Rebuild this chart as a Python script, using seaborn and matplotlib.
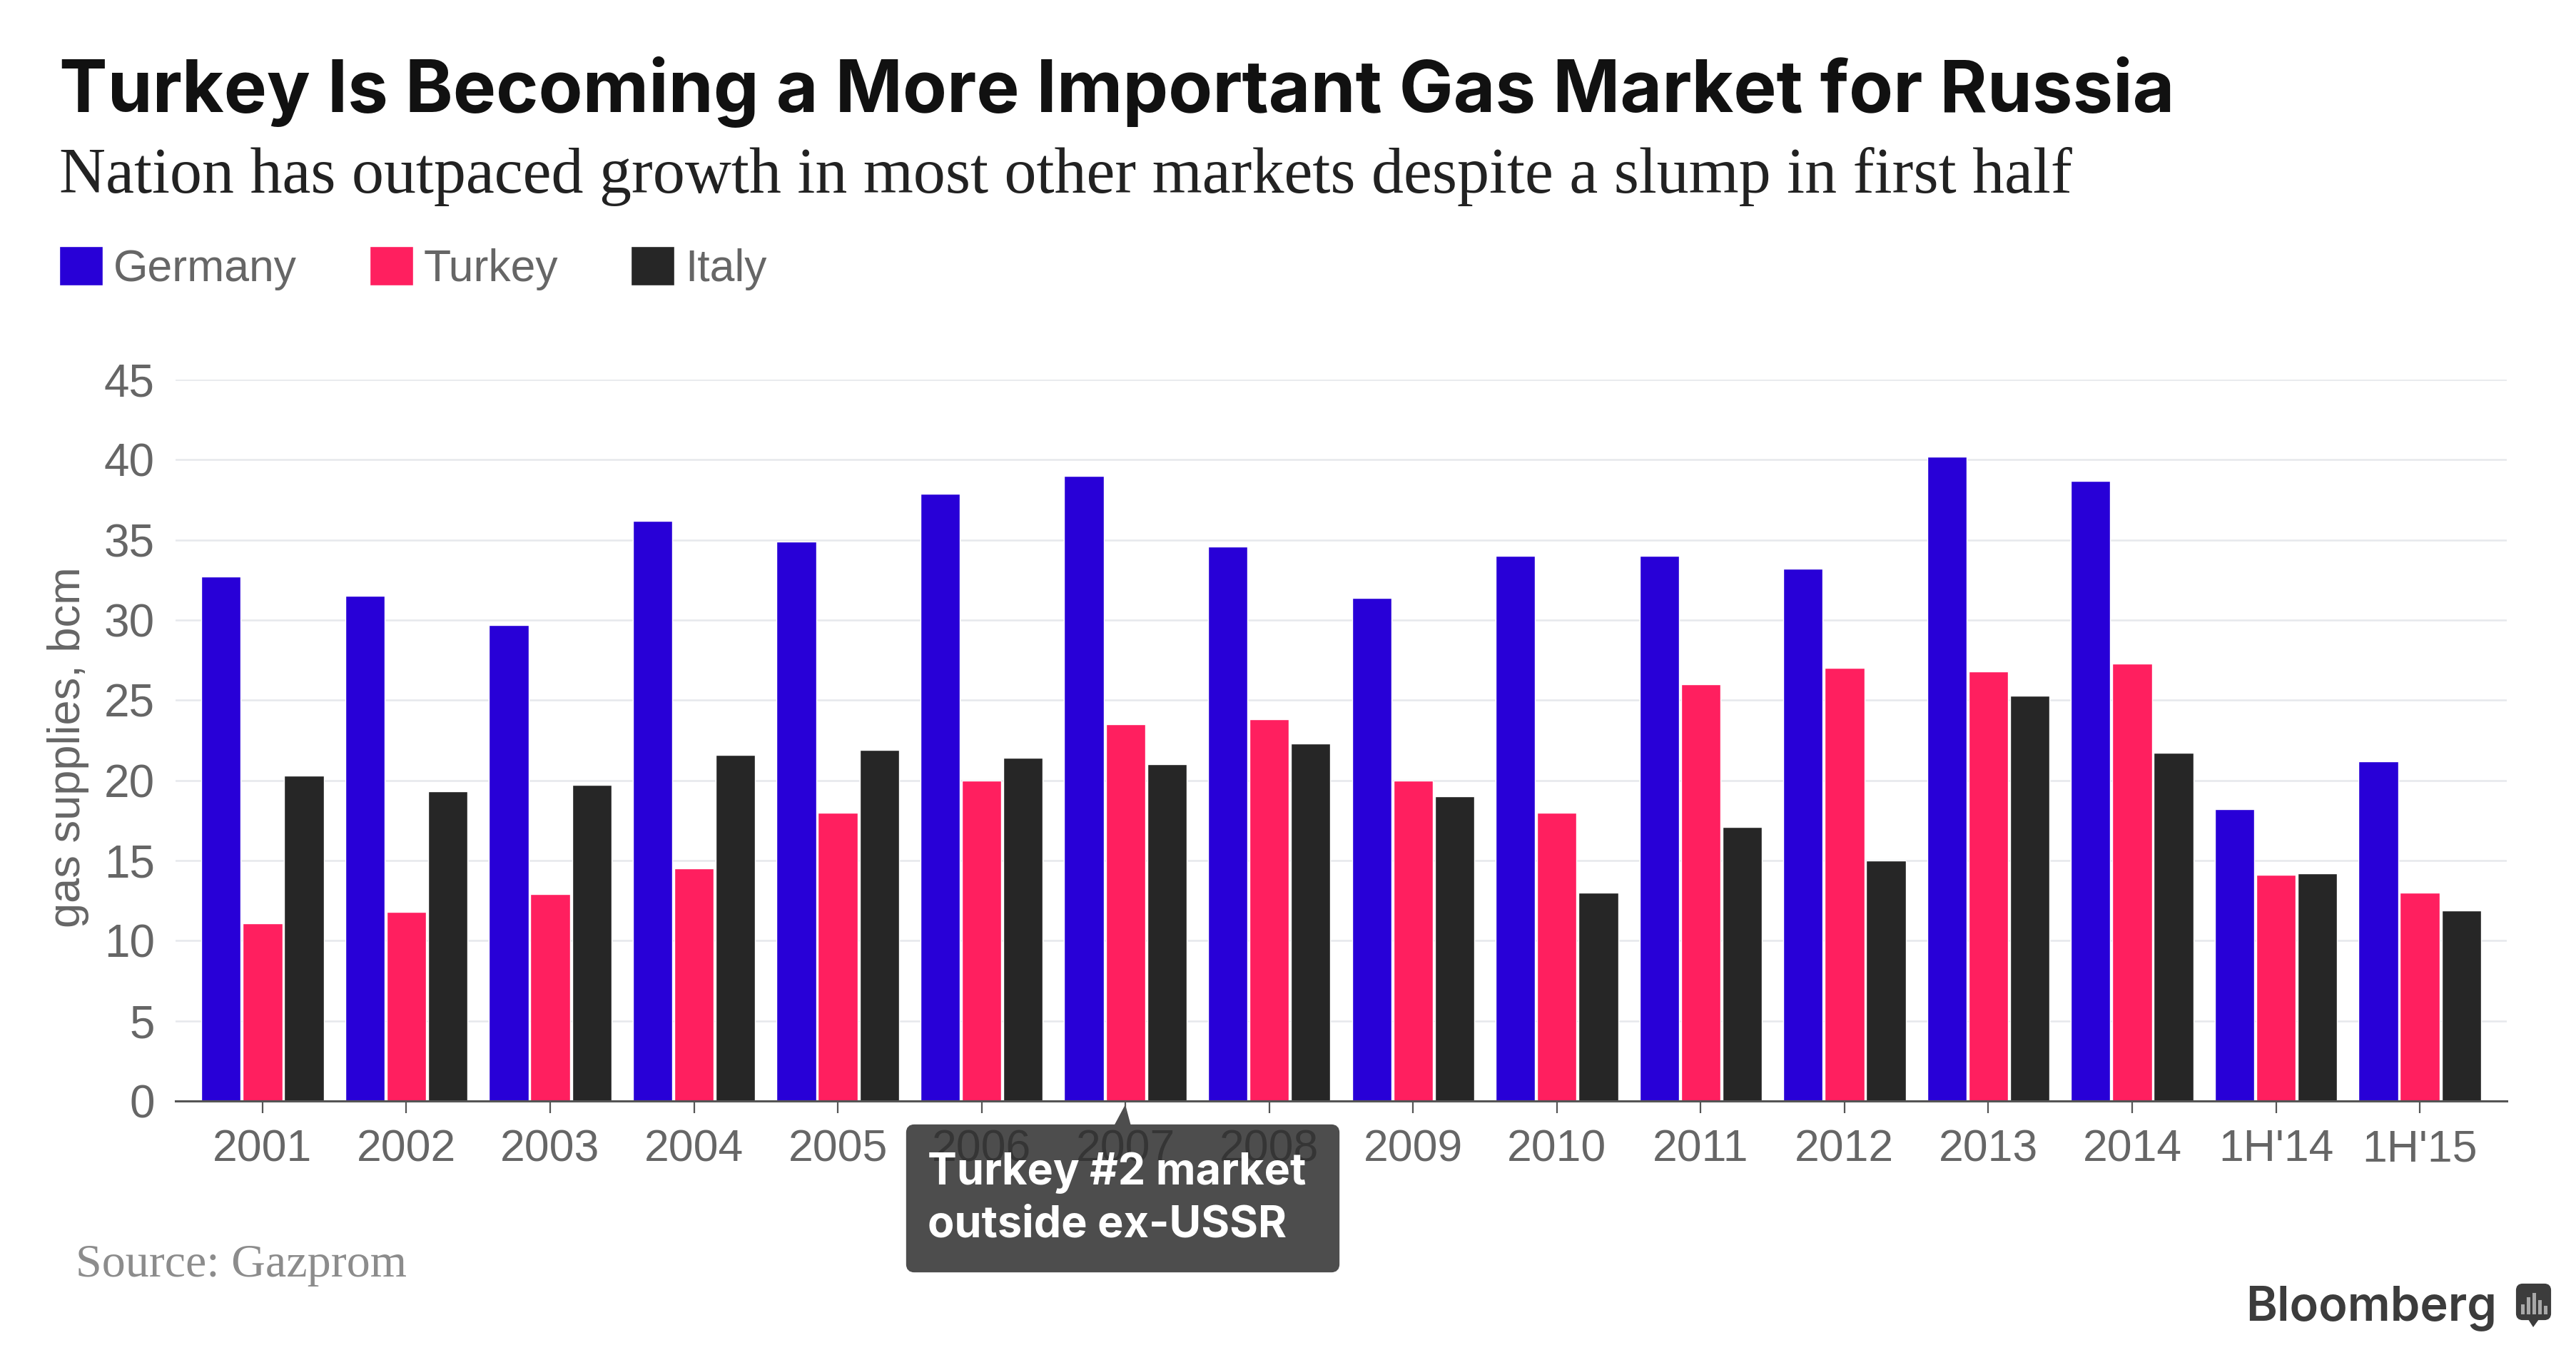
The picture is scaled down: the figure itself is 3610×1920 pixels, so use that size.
import pandas as pd
import matplotlib
matplotlib.use("Agg")
import matplotlib.pyplot as plt
from matplotlib.patches import FancyBboxPatch, Polygon, Rectangle
import seaborn as sns

# ── Data ──────────────────────────────────────────────────────────────────────
periods = ['2001', '2002', '2003', '2004', '2005', '2006', '2007', '2008',
           '2009', '2010', '2011', '2012', '2013', '2014', "1H'14", "1H'15"]
germany = [32.7, 31.5, 29.7, 36.2, 34.9, 37.9, 39.0, 34.6,
           31.4, 34.0, 34.0, 33.2, 40.2, 38.7, 18.2, 21.2]
turkey = [11.1, 11.8, 12.9, 14.5, 18.0, 20.0, 23.5, 23.8,
          20.0, 18.0, 26.0, 27.0, 26.8, 27.3, 14.1, 13.0]
italy = [20.3, 19.3, 19.7, 21.6, 21.9, 21.4, 21.0, 22.3,
         19.0, 13.0, 17.1, 15.0, 25.3, 21.7, 14.2, 11.9]
y_ticks = [0, 5, 10, 15, 20, 25, 30, 35, 40, 45]
colors = {'Germany': '#2800D7', 'Turkey': '#FF1F5F', 'Italy': '#262626'}

W, H = 3610, 1920
SANS = 'Liberation Sans'
SERIF = 'Liberation Serif'
GREY = '#666666'


def fx(px):
    return px / W


def fy(px):
    # pixel rows count from the top of the image
    return 1 - px / H


df = pd.DataFrame({'period': periods, 'Germany': germany, 'Turkey': turkey, 'Italy': italy})
long_df = df.melt(id_vars='period', var_name='country', value_name='bcm')

sns.set_theme(style='white')
plt.rcParams['font.family'] = [SANS, 'DejaVu Sans']

fig = plt.figure(figsize=(W / 100, H / 100), dpi=100, facecolor='white')
ax = fig.add_axes([fx(246), fy(1543), fx(3513 - 246), (1543 - 532) / H])

sns.barplot(data=long_df, x='period', y='bcm', hue='country', order=periods,
            hue_order=['Germany', 'Turkey', 'Italy'], palette=colors, saturation=1,
            width=0.865, gap=0.05, ax=ax)

# ── Axes ──────────────────────────────────────────────────────────────────────
ax.set_xlim(-0.605, 15.605)
ax.set_ylim(0, 45)
ax.set_yticks(y_ticks)
ax.set_axisbelow(True)
ax.grid(axis='y', color='#E6E8EC', linewidth=1.8)
ax.grid(axis='x', visible=False)
sns.despine(ax=ax, left=True)
ax.spines['bottom'].set_color('#555555')
ax.spines['bottom'].set_linewidth(2.2)

ax.tick_params(axis='y', length=0, pad=21, labelsize=46, labelcolor=GREY)
ax.tick_params(axis='x', bottom=True, length=12, width=1.6, color='#555555', pad=15.5,
               labelsize=45, labelcolor=GREY)
ax.set_xlabel('')
ax.set_ylabel('gas supplies, bcm', fontsize=45.5, color=GREY)
ax.yaxis.set_label_coords(-0.037, 0.49)

# the tooltip sits on the middle tick labels, which show through darker
for lbl in ax.get_xticklabels()[5:8]:
    lbl.set_color('#353535')

# ── Legend ────────────────────────────────────────────────────────────────────
sns.move_legend(ax, 'upper left', bbox_to_anchor=(fx(83), fy(345)),
                bbox_transform=fig.transFigure, ncol=3, title=None, frameon=False,
                fontsize=45, handlelength=0.98, handleheight=0.98, handletextpad=0.24,
                columnspacing=1.62, borderpad=0, borderaxespad=0)
for txt in ax.get_legend().get_texts():
    txt.set_color(GREY)

# ── Tooltip ───────────────────────────────────────────────────────────────────
box = FancyBboxPatch((fx(1274), fy(1779)), fx(1873 - 1274), (1779 - 1580) / H,
                     boxstyle='round,pad=0,rounding_size=0.002', mutation_aspect=1.9,
                     transform=fig.transFigure, facecolor='#4D4D4D',
                     edgecolor='#4D4D4D', linewidth=6, clip_on=False, zorder=0.4)
ax.add_patch(box)
pointer = Polygon([(fx(1561), fy(1578)), (fx(1577), fy(1548)), (fx(1585), fy(1578))],
                  transform=fig.transFigure, facecolor='#4D4D4D', edgecolor='none',
                  clip_on=False, zorder=0.4)
ax.add_patch(pointer)
fig.text(fx(1300), fy(1660), 'Turkey #2 market', family='Inter', weight='bold',
         fontsize=44, color='white', va='baseline', zorder=5)
fig.text(fx(1300), fy(1734), 'outside ex-USSR', family='Inter', weight='bold',
         fontsize=44, color='white', va='baseline', zorder=5)

# ── Headline text ─────────────────────────────────────────────────────────────
fig.text(fx(83), fy(157), 'Turkey Is Becoming a More Important Gas Market for Russia',
         family='Inter', weight='bold', fontsize=72.9, color='#111111', va='baseline')
fig.text(fx(83), fy(270), 'Nation has outpaced growth in most other markets despite a slump in first half',
         family=SERIF, fontsize=64.8, color='#222222', va='baseline')
fig.text(fx(106), fy(1789), 'Source: Gazprom', family=SERIF, fontsize=47.5,
         color='#8C8C8C', va='baseline')

# ── Bloomberg mark ────────────────────────────────────────────────────────────
fig.text(fx(3147), fy(1850), 'Bloomberg', family='Inter', weight='semibold', fontsize=48,
         color='#3C3C3C', va='baseline')
fig.add_artist(FancyBboxPatch((fx(3528), fy(1848)), fx(45), 47 / H,
                              boxstyle='round,pad=0,rounding_size=0.002', mutation_aspect=1.9,
                              transform=fig.transFigure, facecolor='#3C3C3C',
                              edgecolor='#3C3C3C', linewidth=3))
fig.add_artist(Polygon([(fx(3543), fy(1849)), (fx(3550), fy(1860)), (fx(3558), fy(1849))],
                       transform=fig.transFigure, facecolor='#3C3C3C', edgecolor='none'))
for left, top in [(3533, 1828), (3541, 1818), (3549, 1812), (3557, 1822), (3565, 1830)]:
    fig.add_artist(Rectangle((fx(left), fy(1842)), fx(5), (1842 - top) / H,
                             transform=fig.transFigure, facecolor='#A8A8A8', edgecolor='none'))

fig.savefig('out.png', dpi=100, facecolor='white')
